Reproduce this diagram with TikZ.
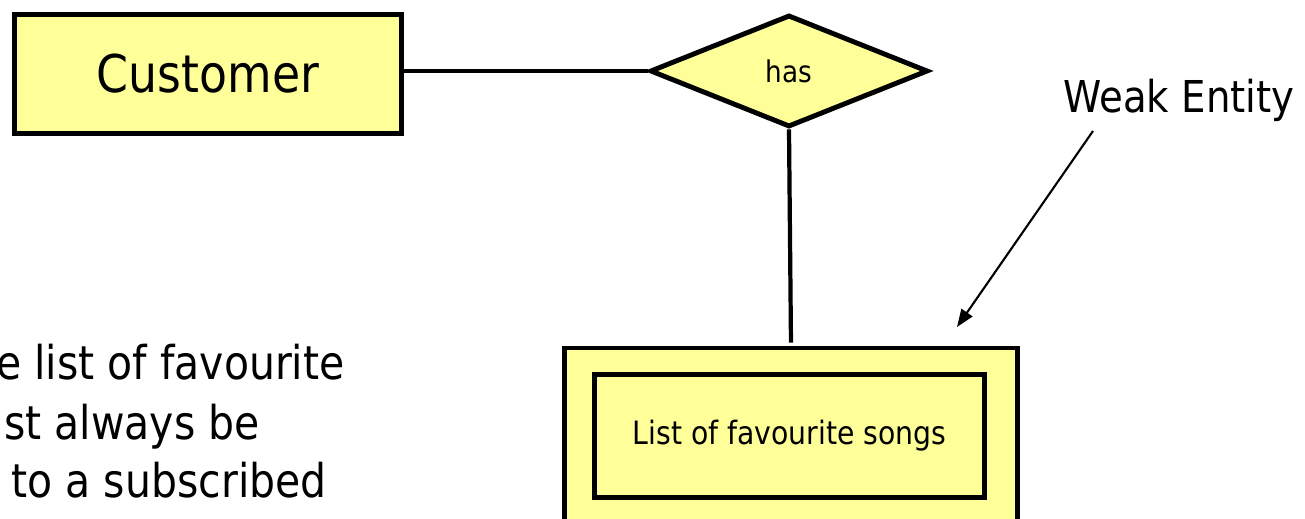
\documentclass[tikz,border=0pt]{standalone}
\usepackage{fontspec}
\setmainfont{DejaVu Sans}[FakeStretch=0.88]
\usetikzlibrary{shapes.geometric,arrows.meta}
\definecolor{erfill}{RGB}{255,255,153}
\tikzset{
  entbox/.style={draw=black, fill=erfill, line width=2.8pt, inner sep=0pt},
  relbox/.style={diamond, draw=black, fill=erfill, line width=2.8pt, inner sep=0pt, miter limit=10},
  conn/.style={draw=black, line width=2.4pt},
  pointer/.style={draw=black, line width=1.2pt, -{Triangle[length=10pt,width=7.5pt]}},
  note/.style={inner sep=0pt, font=\fontsize{25pt}{30pt}\selectfont},
  sidenote/.style={inner sep=0pt, font=\fontsize{26.5pt}{32pt}\selectfont}
}
\begin{document}
\begin{tikzpicture}[x=0.02cm, y=-0.02cm]
\useasboundingbox (0,0) rectangle (1305,519);
\clip (0,0) rectangle (1305,519);
% Customer entity
\node[entbox, minimum width=387*0.02cm, minimum height=119*0.02cm,
      font=\fontsize{29.6pt}{34pt}\selectfont] (cust) at (208,74) {Customer};
% relationship
\node[relbox, minimum width=278*0.02cm, minimum height=112*0.02cm,
      font=\fontsize{17pt}{20pt}\selectfont] (has) at (789,71) {has};
% weak entity (double box)
\node[entbox, minimum width=453*0.02cm, minimum height=176*0.02cm] (weakout) at (791,436) {};
\node[entbox, minimum width=390*0.02cm, minimum height=123*0.02cm,
      font=\fontsize{18.3pt}{22pt}\selectfont] (weak) at (789.5,436) {List of favourite songs};
% connectors
\draw[conn] (has.west -| cust.east) -- (has.west);
\draw[conn, shorten >=3*0.02cm] (has.south) -- (weakout.north);
% Weak entity label and pointer
\node[note, anchor=base] (wlabel) at (1179,113) {Weak Entity};
\coordinate (pstart) at (1093,131);
\coordinate (ptip) at (957,327);
\draw[pointer] (pstart) -- (ptip);
% clipped note text at left
\node[sidenote, anchor=base east] (l1) at (345,380) {e list of favourite};
\node[sidenote, anchor=base east] (l2) at (260,440) {st always be};
\node[sidenote, anchor=base east] (l3) at (327,498) {to a subscribed};
\end{tikzpicture}
\end{document}
